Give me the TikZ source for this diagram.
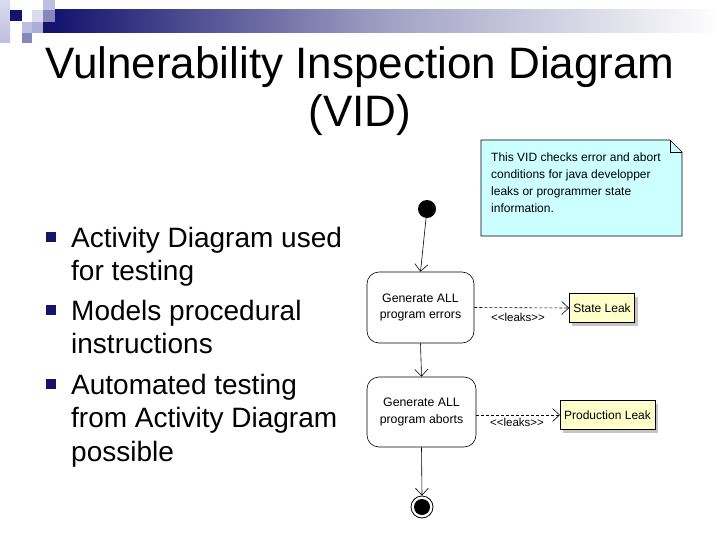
\documentclass[tikz,border=0pt]{standalone}
\usepackage{fontspec}
\setmainfont{Liberation Sans}
\usetikzlibrary{arrows.meta,shapes.misc,shadows}
\definecolor{navy}{RGB}{20,20,110}
\definecolor{lav1}{RGB}{218,218,240}
\definecolor{lav2}{RGB}{190,190,225}
\definecolor{lav3}{RGB}{135,135,190}
\definecolor{notecol}{RGB}{204,255,255}
\definecolor{leakcol}{RGB}{255,255,204}
\tikzset{
  title/.style={font=\fontsize{44}{50}\selectfont, inner sep=0pt},
  bullettext/.style={font=\fontsize{28}{33.5}\selectfont, align=left, anchor=north west, inner sep=0pt},
  bulletsq/.style={fill=navy, minimum size=9.5pt, inner sep=0pt},
  activity/.style={draw, rounded corners=12pt, minimum width=107pt, minimum height=71pt, align=center, font=\fontsize{12.3}{16.5}\selectfont, line width=0.6pt},
  leak/.style={draw, fill=leakcol, minimum height=29pt, inner xsep=4pt, font=\fontsize{12}{14}\selectfont, drop shadow={shadow xshift=3pt, shadow yshift=-3pt, fill=black!45}},
  flow/.style={-{Straight Barb[length=7pt,width=13pt]}, line width=0.6pt},
  depend/.style={dashed, dash pattern=on 3pt off 2pt, -{Straight Barb[length=7pt,width=13pt]}, line width=0.6pt},
  stereo/.style={font=\fontsize{11.5}{12}\selectfont, inner sep=1pt}
}
\begin{document}
\begin{tikzpicture}[x=1pt,y=-1pt]
\useasboundingbox (0,0) rectangle (720,540);
% header decoration
\shade[top color=lav1, bottom color=lav2] (0,0) rectangle (10,43);
\fill[navy] (10,10) rectangle (22,21);
\fill[lav1] (32,10) rectangle (43,22);
\fill[lav2] (43,0) rectangle (55,10);
\fill[lav3] (43,10) rectangle (55,22);
\fill[lav2] (22,22) rectangle (32,33);
\fill[lav2!70!lav3] (32,22) rectangle (43,33);
\fill[lav3] (22,33) rectangle (32,43);
\shade[left color=navy, right color=white, middle color=navy!40!white] (55,10) rectangle (720,33);
\fill[navy] (43,22) rectangle (55,33);
% title
\node[title] (t1) at (360,67) {Vulnerability Inspection Diagram};
\node[title] (t2) at (360,115) {(VID)};
% bullets
\node[bulletsq] (b1) at (51,237) {};
\node[bullettext] (bt1) at (71,227) {Activity Diagram used\\for testing};
\node[bulletsq] (b2) at (51,310) {};
\node[bullettext] (bt2) at (71,300) {Models procedural\\instructions};
\node[bulletsq] (b3) at (51,384) {};
\node[bullettext] (bt3) at (71,374) {Automated testing\\from Activity Diagram\\possible};
% note
\draw[fill=notecol, line width=0.6pt] (481,140) -- (670,140) -- (682,152) -- (682,236) -- (481,236) -- cycle;
\draw[line width=0.6pt] (670,140) -- (670,152) -- (682,152);
\node[anchor=north west, align=left, font=\fontsize{12}{17}\selectfont, inner sep=0pt] (note) at (491,153)
  {This VID checks error and abort\\conditions for java developper\\leaks or programmer state\\information.};
% activity diagram
\node[circle, fill=black, minimum size=18pt, inner sep=0pt] (start) at (427,209) {};
\node[activity] (a1) at (420.5,307.5) {Generate ALL\\program errors};
\node[activity, minimum width=109pt, minimum height=70pt] (a2) at (421.5,412) {Generate ALL\\program aborts};
\node[circle, draw, line width=0.8pt, minimum size=22pt, inner sep=0pt] (end) at (422,507) {};
\node[circle, fill=black, minimum size=16pt, inner sep=0pt] (endin) at (end.center) {};
\draw[flow] (start) -- (a1.north);
\draw[flow] (a1.south) -- (a2.north);
\draw[flow] (a2.south) -- (end.north);
\node[leak] (s1) at (602,308) {State Leak};
\node[leak] (s2) at (607.5,415) {Production Leak};
\draw[depend] (a1.east) -- (s1.west);
\draw[depend] (a2.east |- s2.west) -- (s2.west);
\node[stereo] (l1) at (518,317) {<{}<leaks>{}>};
\node[stereo] (l2) at (517,422) {<{}<leaks>{}>};
\end{tikzpicture}
\end{document}
